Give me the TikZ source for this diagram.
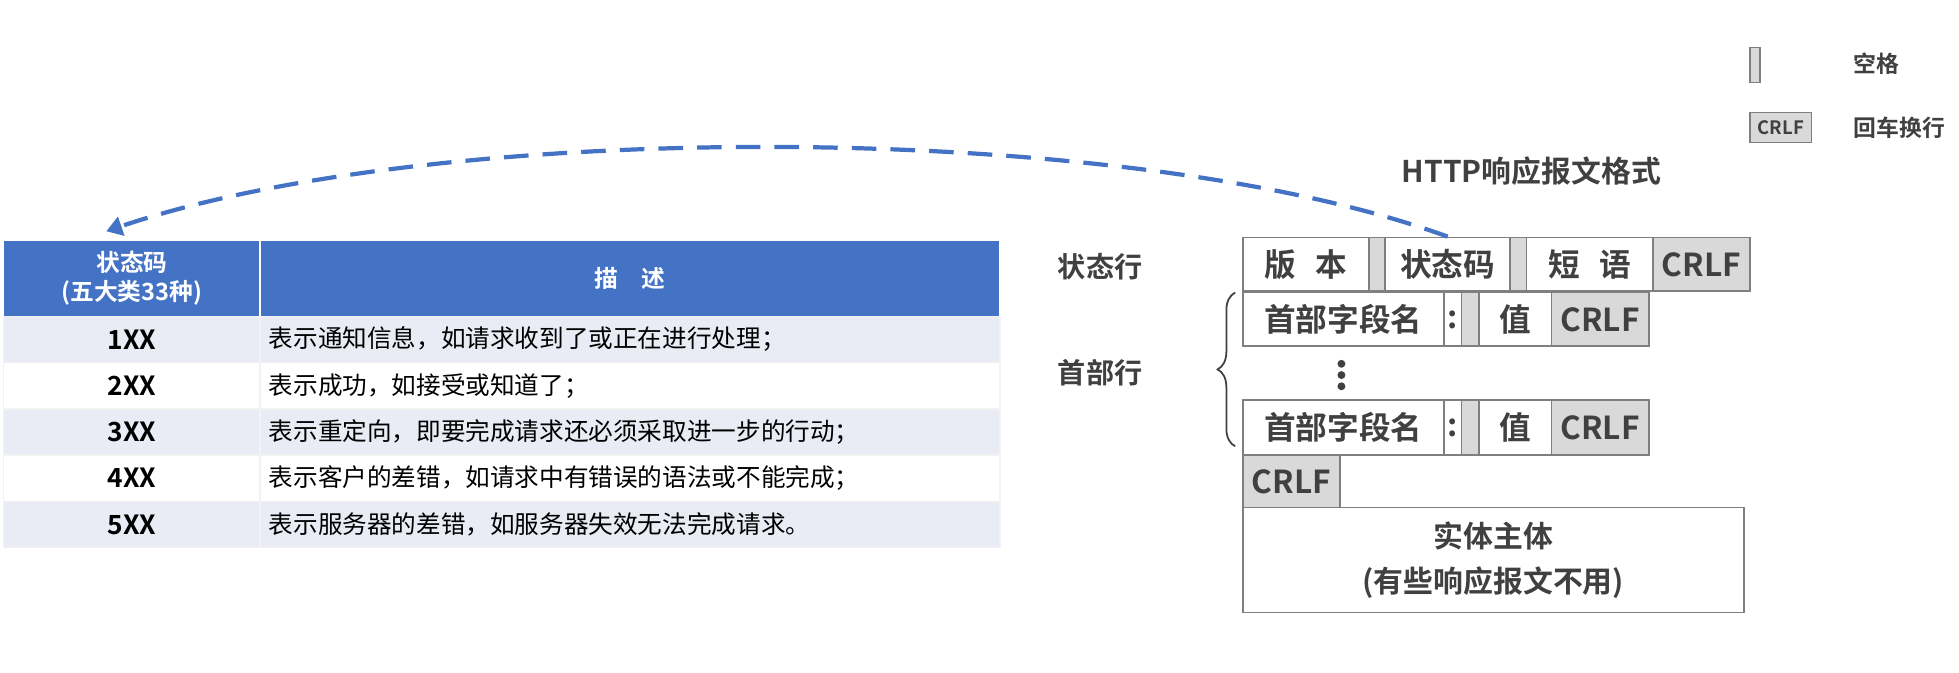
\documentclass[tikz,border=0pt]{standalone}
\usepackage{fontspec}
\setmainfont{Noto Sans CJK SC}
\newfontfamily\cjkb{Noto Sans CJK SC Bold}
\usetikzlibrary{arrows.meta,decorations.pathreplacing}
\definecolor{hblue}{HTML}{4472C4}
\definecolor{stripe}{HTML}{E9EBF5}
\definecolor{tgray}{HTML}{404040}
\definecolor{cgray}{HTML}{D9D9D9}
\definecolor{bgray}{HTML}{7F7F7F}
\newcommand\mycell[7]{%
 \pgfmathsetmacro\cw{(#4-#2)*0.025}\pgfmathsetmacro\ch{(#5-#3)*0.025}%
 \node[#6,minimum width=\cw cm,minimum height=\ch cm,inner sep=0pt] (#1) at ({(#2+#4)/2},{(#3+#5)/2}) {#7};}
\begin{document}
\begin{tikzpicture}[x=0.025cm,y=-0.025cm,
  wbox/.style={draw=bgray,line width=1pt,fill=white,text=tgray,font=\cjkb\fontsize{18}{20}\selectfont},
  gbox/.style={draw=bgray,line width=1pt,fill=cgray,text=tgray,font=\cjkb\fontsize{18}{20}\selectfont},
  thead/.style={draw=white,line width=0.8pt,fill=hblue,text=white,font=\cjkb\fontsize{13.5}{16}\selectfont,align=center},
  tcode/.style={draw=white!90!gray,line width=0.8pt,text=black,font=\cjkb\fontsize{15}{17}\selectfont},
  tdesc/.style={draw=white!90!gray,line width=0.8pt,text=black,font=\fontsize{14}{16}\selectfont,text width=\cw cm-10pt,align=left},
  lbl/.style={text=tgray,font=\cjkb\fontsize{16}{18}\selectfont},
  dotc/.style={circle,fill=tgray,inner sep=0pt,minimum size=4.5pt}]
\useasboundingbox (0,0) rectangle (1567,538);
% table
\mycell{h1}{3}{192}{208}{253}{thead}{状态码\\(五大类33种)}
\mycell{h2}{208}{192}{800}{253}{thead}{描\quad 述}
\mycell{c1}{3}{253}{208}{290}{tcode,fill=stripe}{1XX}
\mycell{d1}{208}{253}{800}{290}{tdesc,fill=stripe}{表示通知信息，如请求收到了或正在进行处理；}
\mycell{c2}{3}{290}{208}{327}{tcode,fill=white}{2XX}
\mycell{d2}{208}{290}{800}{327}{tdesc,fill=white}{表示成功，如接受或知道了；}
\mycell{c3}{3}{327}{208}{364}{tcode,fill=stripe}{3XX}
\mycell{d3}{208}{327}{800}{364}{tdesc,fill=stripe}{表示重定向，即要完成请求还必须采取进一步的行动；}
\mycell{c4}{3}{364}{208}{401}{tcode,fill=white}{4XX}
\mycell{d4}{208}{364}{800}{401}{tdesc,fill=white}{表示客户的差错，如请求中有错误的语法或不能完成；}
\mycell{c5}{3}{401}{208}{438}{tcode,fill=stripe}{5XX}
\mycell{d5}{208}{401}{800}{438}{tdesc,fill=stripe}{表示服务器的差错，如服务器失效无法完成请求。}
% status line
\mycell{ver}{994}{190}{1095}{233}{wbox}{版\hspace{0.6em}本}
\mycell{sp1}{1095}{190}{1108}{233}{gbox}{}
\mycell{sc}{1108}{190}{1208}{233}{wbox}{状态码}
\mycell{sp2}{1208}{190}{1221}{233}{gbox}{}
\mycell{ph}{1221}{190}{1322}{233}{wbox}{短\hspace{0.6em}语}
\mycell{cr0}{1322}{190}{1400}{233}{gbox}{CRLF}
% header line 1
\mycell{hn1}{994}{234}{1155}{277}{wbox}{首部字段名}
\mycell{co1}{1155}{234}{1169}{277}{wbox}{:}
\mycell{sp3}{1169}{234}{1183}{277}{gbox}{}
\mycell{v1}{1183}{234}{1241}{277}{wbox}{值}
\mycell{cr1}{1241}{234}{1319}{277}{gbox}{CRLF}
\node[dotc] (dt1) at (1073,291) {};
\node[dotc] (dt2) at (1073,300) {};
\node[dotc] (dt3) at (1073,309) {};
% header line 2
\mycell{hn2}{994}{320}{1155}{364}{wbox}{首部字段名}
\mycell{co2}{1155}{320}{1169}{364}{wbox}{:}
\mycell{sp4}{1169}{320}{1183}{364}{gbox}{}
\mycell{v2}{1183}{320}{1241}{364}{wbox}{值}
\mycell{cr2}{1241}{320}{1319}{364}{gbox}{CRLF}
\mycell{cr3}{994}{364}{1072}{406}{gbox}{CRLF}
\mycell{body}{994}{406}{1395}{490}{wbox,align=center,font=\cjkb\fontsize{17}{26}\selectfont}{实体主体\\(有些响应报文不用)}
% labels
\node[lbl] (lsl) at (880,213) {状态行};
\node[lbl] (lhl) at (880,298) {首部行};
\draw[tgray,line width=1pt,decorate,decoration={brace,amplitude=10pt}] (988,357) -- (988,234);
\node[lbl,font=\cjkb\fontsize{17}{19}\selectfont] (title) at (1225,137) {HTTP响应报文格式};
% legend
\mycell{lg1}{1400}{38}{1408}{66}{gbox}{}
\node[lbl,font=\cjkb\fontsize{13}{15}\selectfont,anchor=west] (lg1t) at (1478,51) {空格};
\mycell{lg2}{1400}{90}{1449}{114}{gbox,font=\cjkb\fontsize{10.5}{12}\selectfont}{CRLF}
\node[lbl,font=\cjkb\fontsize{13}{15}\selectfont,anchor=west] (lg2t) at (1478,102) {回车换行};
% arrow
\coordinate (aend) at (85,185);
\draw[hblue,line width=2.4pt,dash pattern=on 14pt off 8pt,-{Triangle[length=9pt,width=11pt]}]
  (sc.north) .. controls (900,95) and (350,95) .. (aend);
\end{tikzpicture}
\end{document}
